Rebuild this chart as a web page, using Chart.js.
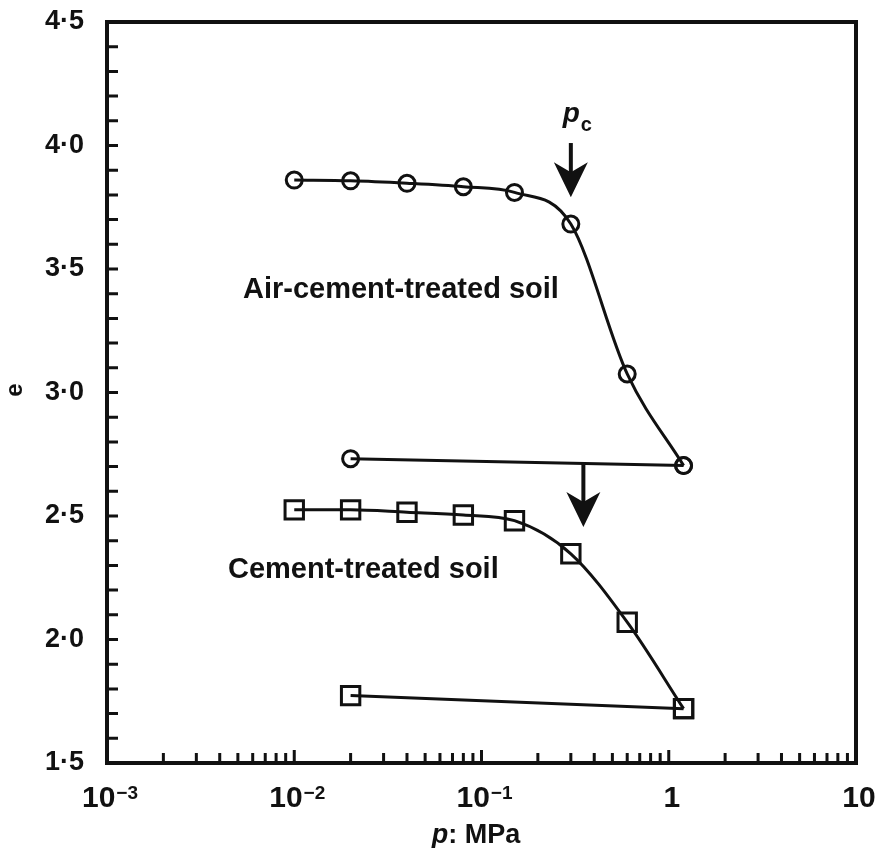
<!DOCTYPE html>
<html>
<head>
<meta charset="utf-8">
<script src="https://cdn.jsdelivr.net/npm/chart.js@4.4.1/dist/chart.umd.min.js"></script>
<style>
  html, body { margin: 0; padding: 0; background: #fff; }
  #wrap { width: 875px; height: 848px; }
</style>
</head>
<body>
<div id="wrap"><canvas id="graph1"></canvas></div>
<script>
// consolidation pressure (MPa) and void ratio, loading then unloading
var pressure = [0.01, 0.02, 0.04, 0.08, 0.15, 0.3, 0.6, 1.2];
var eAirCement = [3.86, 3.857, 3.847, 3.833, 3.81, 3.682, 3.075, 2.704];
var eCement = [2.525, 2.525, 2.515, 2.504, 2.481, 2.347, 2.07, 1.72];

var unloadPressure = [1.2, 0.02];
var eAirCementUnload = [2.704, 2.732];
var eCementUnload = [1.72, 1.773];

// axis ticks: decade base and exponent ('' = no exponent)
var decades = [0.001, 0.01, 0.1, 1, 10];
var decadeBase = ['10', '10', '10', '1', '10'];
var decadeExp = ['\u22123', '\u22122', '\u22121', '', ''];
var yLabelled = [1.5, 2.0, 2.5, 3.0, 3.5, 4.0, 4.5];

// arrows: [p, eFrom, eTo]
var arrows = [[0.3, 4.01, 3.79], [0.35, 2.715, 2.455]];

var ink = '#111';
var FAM = 'Liberation Sans, Arial, sans-serif';

function pts(xs, ys) {
  var out = [];
  for (var i = 0; i < xs.length; i++) out.push({ x: xs[i], y: ys[i] });
  return out;
}

function serie(data, style, radius, smooth) {
  return {
    data: data,
    showLine: true,
    borderColor: ink,
    borderWidth: 3,
    pointStyle: style,
    pointRadius: radius,
    pointBorderWidth: 3,
    pointBorderColor: ink,
    pointBackgroundColor: 'rgba(0,0,0,0)',
    cubicInterpolationMode: smooth ? 'monotone' : 'default',
    tension: 0
  };
}

function arrow(ctx, x, y1, y2) {
  ctx.save();
  ctx.strokeStyle = ink;
  ctx.fillStyle = ink;
  ctx.lineWidth = 4;
  ctx.beginPath();
  ctx.moveTo(x, y1);
  ctx.lineTo(x, y2 - 22);
  ctx.stroke();
  ctx.beginPath();
  ctx.moveTo(x, y2);
  ctx.lineTo(x - 17, y2 - 35);
  ctx.lineTo(x, y2 - 25);
  ctx.lineTo(x + 17, y2 - 35);
  ctx.closePath();
  ctx.fill();
  ctx.restore();
}

var decor = {
  id: 'decor',
  afterDatasetsDraw: function(chart) {
    var ctx = chart.ctx;
    var a = chart.chartArea;
    var xs = chart.scales.x, ys = chart.scales.y;
    ctx.save();
    ctx.strokeStyle = ink;

    // frame
    ctx.lineWidth = 4;
    ctx.strokeRect(a.left, a.top, a.right - a.left, a.bottom - a.top);

    // inward ticks
    ctx.lineWidth = 3;
    ctx.beginPath();
    ys.ticks.forEach(function(t) {
      var y = ys.getPixelForValue(t.value);
      ctx.moveTo(a.left, y);
      ctx.lineTo(a.left + 11, y);
    });
    xs.ticks.forEach(function(t) {
      var x = xs.getPixelForValue(t.value);
      ctx.moveTo(x, a.bottom);
      ctx.lineTo(x, a.bottom - (t.major ? 13 : 10));
    });
    ctx.stroke();

    // arrows
    arrows.forEach(function(ar) {
      arrow(ctx, xs.getPixelForValue(ar[0]), ys.getPixelForValue(ar[1]), ys.getPixelForValue(ar[2]));
    });

    ctx.fillStyle = ink;
    ctx.textBaseline = 'alphabetic';
    ctx.textAlign = 'left';

    // decade labels with raised exponent
    decades.forEach(function(d, i) {
      var x = xs.getPixelForValue(d);
      ctx.font = 'bold 30px ' + FAM;
      var wb = ctx.measureText(decadeBase[i]).width;
      ctx.font = 'bold 19px ' + FAM;
      var we = decadeExp[i] ? ctx.measureText(decadeExp[i]).width + 1 : 0;
      var x0 = x - (wb + we) / 2 + 3;
      ctx.font = 'bold 30px ' + FAM;
      ctx.fillText(decadeBase[i], x0, 807);
      if (decadeExp[i]) {
        ctx.font = 'bold 19px ' + FAM;
        ctx.fillText(decadeExp[i], x0 + wb + 1, 799);
      }
    });

    // p_c label
    var px = xs.getPixelForValue(0.3);
    ctx.font = 'italic bold 28px ' + FAM;
    ctx.fillText('p', px - 8, 122);
    ctx.font = 'bold 20px ' + FAM;
    ctx.fillText('c', px + 10, 131);

    // curve labels
    ctx.font = 'bold 29px ' + FAM;
    ctx.fillText('Air-cement-treated soil', 243, 298);
    ctx.fillText('Cement-treated soil', 228, 578);

    // axis titles
    ctx.font = 'italic bold 27px ' + FAM;
    var t1 = 'p';
    var t2 = ': MPa';
    var w1 = ctx.measureText(t1).width;
    ctx.font = 'bold 27px ' + FAM;
    var w2 = ctx.measureText(t2).width;
    var sx = 476 - (w1 + w2) / 2;
    ctx.font = 'italic bold 27px ' + FAM;
    ctx.fillText(t1, sx, 843);
    ctx.font = 'bold 27px ' + FAM;
    ctx.fillText(t2, sx + w1, 843);

    ctx.save();
    ctx.translate(22, 390);
    ctx.rotate(-Math.PI / 2);
    ctx.textAlign = 'center';
    ctx.font = 'bold 24px ' + FAM;
    ctx.fillText('e', 0, 0);
    ctx.restore();

    ctx.restore();
  }
};

var kanvas = document.getElementById('graph1');
var chart = new Chart(kanvas, {
  type: 'scatter',
  data: {
    datasets: [
      serie(pts(pressure, eAirCement), 'circle', 8, true),
      serie(pts(unloadPressure, eAirCementUnload), 'circle', 8, false),
      serie(pts(pressure, eCement), 'rect', 13, true),
      serie(pts(unloadPressure, eCementUnload), 'rect', 13, false)
    ]
  },
  options: {
    responsive: true,
    maintainAspectRatio: false,
    animation: false,
    layout: { padding: { top: 22, right: 19, left: 0, bottom: 0 } },
    plugins: { legend: { display: false }, tooltip: { enabled: false } },
    scales: {
      x: {
        type: 'logarithmic',
        min: 0.001,
        max: 10,
        grid: { display: false, drawTicks: false },
        border: { display: false },
        afterBuildTicks: function(scale) {
          var t = [];
          decades.forEach(function(d, i) {
            t.push({ value: d, major: true });
            if (i < decades.length - 1) {
              for (var m = 2; m <= 9; m++) t.push({ value: d * m, major: false });
            }
          });
          scale.ticks = t;
        },
        afterFit: function(scale) {
          scale.height = 85;
          scale.paddingLeft = 0;
          scale.paddingRight = 0;
        },
        ticks: { display: false, autoSkip: false }
      },
      y: {
        min: 1.5,
        max: 4.5,
        grid: { display: false, drawTicks: false },
        border: { display: false },
        afterFit: function(scale) {
          scale.width = 107;
          scale.paddingTop = 0;
          scale.paddingBottom = 0;
        },
        ticks: {
          stepSize: 0.1,
          autoSkip: false,
          padding: 23,
          color: ink,
          font: { family: FAM, size: 27, weight: 'bold' },
          callback: function(v) {
            var hit = yLabelled.some(function(l) { return Math.abs(l - v) < 1e-6; });
            return hit ? v.toFixed(1).replace('.', '\u00B7') : '';
          }
        }
      }
    }
  },
  plugins: [decor]
});
</script>
</body>
</html>
